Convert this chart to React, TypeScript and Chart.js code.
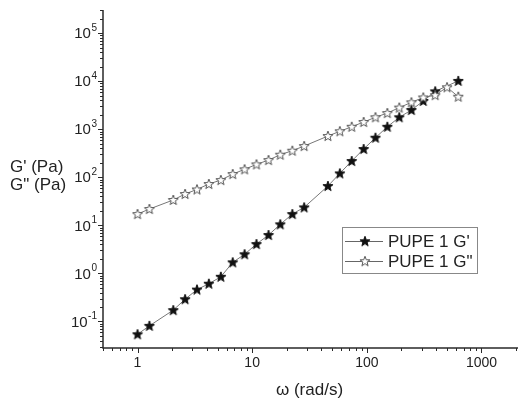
import React, { useEffect, useRef } from "react";
import { Chart, registerables } from "chart.js";

Chart.register(...registerables);

// angular frequency (rad/s) for each series
const omegaGPrime = [1, 1.27, 2.05, 2.6, 3.3, 4.19, 5.33, 6.77, 8.59, 10.9, 13.9, 17.6, 22.4, 28.4, 45.8, 58.2, 73.9, 93.9, 119, 151, 192, 245, 311, 395, 628];
const gPrime = [0.054, 0.081, 0.172, 0.29, 0.46, 0.61, 0.85, 1.7, 2.5, 4.08, 6.3, 10.5, 17.2, 23.7, 66, 121, 219, 389, 668, 1130, 1780, 2520, 3890, 6170, 10200];

const omegaGDoublePrime = [1, 1.27, 2.05, 2.6, 3.3, 4.19, 5.33, 6.77, 8.59, 10.9, 13.9, 17.6, 22.4, 28.4, 45.8, 58.2, 73.9, 93.9, 119, 151, 192, 245, 311, 395, 501, 628];
const gDoublePrime = [17.2, 21.9, 33.8, 45, 56, 72.7, 87.8, 117, 147, 186, 229, 296, 359, 448, 724, 910, 1130, 1420, 1780, 2180, 2830, 3640, 4600, 5140, 7500, 4780];

const seriesLabels = ["PUPE 1 G'", 'PUPE 1 G"'];
const xTickValues = [1, 10, 100, 1000];
const yTickExponents = [-1, 0, 1, 2, 3, 4, 5];
const xTitle = "ω (rad/s)";
const yTitleLines = ["G' (Pa)", 'G" (Pa)'];

const FONT = "'Liberation Sans', Arial, sans-serif";

function makeStar(fill: string, stroke: string): HTMLCanvasElement {
  const c = document.createElement("canvas");
  c.width = 12;
  c.height = 12;
  const g = c.getContext("2d")!;
  const cx = 6, cy = 6.3, ro = 5.3, ri = 2.2;
  g.beginPath();
  for (let i = 0; i < 10; i++) {
    const r = i % 2 === 0 ? ro : ri;
    const a = -Math.PI / 2 + (i * Math.PI) / 5;
    const px = cx + r * Math.cos(a);
    const py = cy + r * Math.sin(a);
    if (i === 0) g.moveTo(px, py);
    else g.lineTo(px, py);
  }
  g.closePath();
  g.fillStyle = fill;
  g.fill();
  g.lineWidth = 1;
  g.strokeStyle = stroke;
  g.stroke();
  return c;
}

export default function App() {
  const ref = useRef<HTMLCanvasElement>(null);

  useEffect(() => {
    const filledStar = makeStar("#111", "#111");
    const openStar = makeStar("#fff", "#555");

    const axesPlugin = {
      id: "customAxes",
      afterDraw(chart: any) {
        const ctx = chart.ctx as CanvasRenderingContext2D;
        const xs = chart.scales.x;
        const ys = chart.scales.y;
        const a = chart.chartArea;
        ctx.save();
        ctx.strokeStyle = "#2a2a2a";
        ctx.lineWidth = 1.5;
        ctx.beginPath();
        ctx.moveTo(a.left, a.top);
        ctx.lineTo(a.left, a.bottom);
        ctx.lineTo(chart.width, a.bottom);
        ctx.stroke();

        ctx.lineWidth = 1;
        // y ticks
        for (let e = -2; e <= 5; e++) {
          for (let m = 1; m <= 9; m++) {
            const v = m * Math.pow(10, e);
            if (v < ys.min || v > ys.max) continue;
            const y = Math.round(ys.getPixelForValue(v)) + 0.5;
            const len = m === 1 ? 5 : 3;
            ctx.beginPath();
            ctx.moveTo(a.left - len, y);
            ctx.lineTo(a.left, y);
            ctx.stroke();
          }
        }
        // x ticks
        for (let e = -1; e <= 3; e++) {
          for (let m = 1; m <= 9; m++) {
            const v = m * Math.pow(10, e);
            const x = Math.round(xs.getPixelForValue(v)) + 0.5;
            if (x < a.left || x > chart.width) continue;
            const len = m === 1 ? 5 : 3;
            ctx.beginPath();
            ctx.moveTo(x, a.bottom);
            ctx.lineTo(x, a.bottom + len);
            ctx.stroke();
          }
        }

        ctx.fillStyle = "#222";
        // x tick labels
        ctx.font = `14px ${FONT}`;
        ctx.textAlign = "center";
        ctx.textBaseline = "middle";
        for (const v of xTickValues) {
          ctx.fillText(String(v), xs.getPixelForValue(v), a.bottom + 15);
        }
        // y tick labels with superscript
        for (const e of yTickExponents) {
          const y = ys.getPixelForValue(Math.pow(10, e));
          const right = a.left - 6;
          const expText = e < 0 ? "-" + Math.abs(e) : String(e);
          ctx.font = `10px ${FONT}`;
          ctx.textAlign = "right";
          ctx.textBaseline = "middle";
          const ew = ctx.measureText(expText).width;
          ctx.fillText(expText, right, y - 5);
          ctx.font = `15px ${FONT}`;
          ctx.fillText("10", right - ew - 0.5, y + 1);
        }
        // axis titles
        ctx.font = `17px ${FONT}`;
        ctx.textAlign = "center";
        ctx.textBaseline = "middle";
        ctx.fillText(xTitle, (xs.getPixelForValue(10) + xs.getPixelForValue(100)) / 2, 390);
        ctx.textAlign = "left";
        ctx.fillText(yTitleLines[0], 10, 167);
        ctx.fillText(yTitleLines[1], 10, 185);

        // legend
        const lx = 342.5, ly = 227.5, lw = 135, lh = 46;
        ctx.strokeStyle = "#888";
        ctx.lineWidth = 1;
        ctx.strokeRect(lx, ly, lw, lh);
        const stars = [filledStar, openStar];
        const rows = [241.5, 261.5];
        for (let i = 0; i < 2; i++) {
          ctx.strokeStyle = "#666";
          ctx.beginPath();
          ctx.moveTo(345, rows[i]);
          ctx.lineTo(383, rows[i]);
          ctx.stroke();
          ctx.drawImage(stars[i], 365 - 6, rows[i] - 6.3);
          ctx.fillStyle = "#222";
          ctx.font = `17px ${FONT}`;
          ctx.textAlign = "left";
          ctx.textBaseline = "middle";
          ctx.fillText(seriesLabels[i], 388, rows[i] + 0.5);
        }
        ctx.restore();
      },
    };

    const chart = new Chart(ref.current!, {
      type: "scatter",
      data: {
        datasets: [
          {
            label: seriesLabels[1],
            data: omegaGDoublePrime.map((x, i) => ({ x, y: gDoublePrime[i] })),
            showLine: true,
            borderColor: "#777",
            borderWidth: 1,
            pointStyle: openStar,
            pointRadius: 6,
          },
          {
            label: seriesLabels[0],
            data: omegaGPrime.map((x, i) => ({ x, y: gPrime[i] })),
            showLine: true,
            borderColor: "#777",
            borderWidth: 1,
            pointStyle: filledStar,
            pointRadius: 6,
          },
        ],
      },
      options: {
        responsive: false,
        animation: false,
        devicePixelRatio: 1,
        layout: { padding: { left: 103, top: 10, right: 0, bottom: 51 } },
        plugins: { legend: { display: false }, tooltip: { enabled: false } },
        scales: {
          x: { type: "logarithmic", min: 0.5, max: 1810, display: false },
          y: { type: "logarithmic", min: 0.028, max: 305000, display: false },
        },
      },
      plugins: [axesPlugin],
    } as any);
    return () => chart.destroy();
  }, []);

  return (
    <div style={{ position: "fixed", left: 0, top: 0, width: 518, height: 399, background: "#fff" }}>
      <canvas ref={ref} width={518} height={399} style={{ display: "block" }} />
    </div>
  );
}
